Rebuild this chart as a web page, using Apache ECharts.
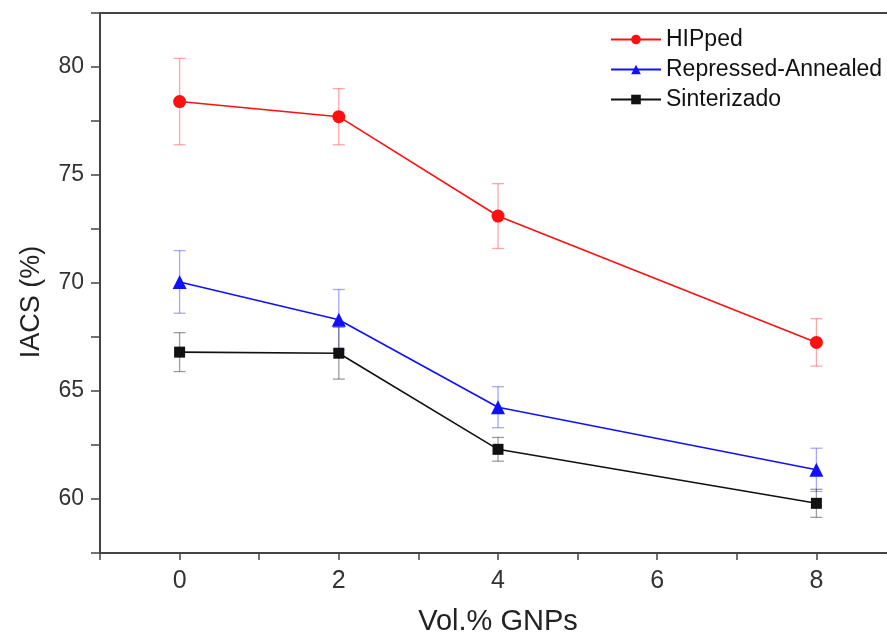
<!DOCTYPE html>
<html>
<head>
<meta charset="utf-8">
<script src="https://cdn.jsdelivr.net/npm/echarts@6/dist/echarts.min.js"></script>
<style>
html,body{margin:0;padding:0;background:#fff;}
#main{width:887px;height:640px;}
</style>
</head>
<body>
<div id="main"></div>
<script>
// ---- data ----
const xValues = [0, 2, 4, 8];
const hipped = [78.4, 77.7, 73.1, 67.25];
const hippedErr = [2.0, 1.3, 1.5, 1.1];
const repressed = [70.05, 68.3, 64.25, 61.35];
const repressedErr = [1.45, 1.4, 0.95, 1.0];
const sinter = [66.8, 66.75, 62.3, 59.8];
const sinterErr = [0.9, 1.2, 0.55, 0.65];
const seriesNames = ['HIPped', 'Repressed-Annealed', 'Sinterizado'];
const xTickLabels = [0, 2, 4, 6, 8];
const yTickLabels = [60, 65, 70, 75, 80];
const xAxisTitle = 'Vol.% GNPs';
const yAxisTitle = 'IACS (%)';

const font = 'Liberation Sans, Arial, sans-serif';

function pts(vals) { return xValues.map((x, i) => [x, vals[i]]); }
function errPts(vals, errs) { return xValues.map((x, i) => [x, vals[i] - errs[i], vals[i] + errs[i]]); }

function errorSeries(data, color) {
  return {
    type: 'custom',
    silent: true,
    z: 1,
    data: data,
    renderItem: function (params, api) {
      const x = api.value(0);
      const lo = api.coord([x, api.value(1)]);
      const hi = api.coord([x, api.value(2)]);
      const w = 6;
      const style = { stroke: color, lineWidth: 1.3 };
      return {
        type: 'group',
        children: [
          { type: 'line', shape: { x1: lo[0], y1: lo[1], x2: hi[0], y2: hi[1] }, style: style },
          { type: 'line', shape: { x1: lo[0] - w, y1: lo[1], x2: lo[0] + w, y2: lo[1] }, style: style },
          { type: 'line', shape: { x1: hi[0] - w, y1: hi[1], x2: hi[0] + w, y2: hi[1] }, style: style }
        ]
      };
    }
  };
}

function lineSeries(name, vals, color, symbol, size) {
  return {
    name: name,
    type: 'line',
    data: pts(vals),
    z: 3,
    symbol: symbol,
    symbolSize: size,
    lineStyle: { color: color, width: 1.6 },
    itemStyle: { color: color },
    emphasis: { disabled: true }
  };
}

const axisColor = '#444';
const chart = echarts.init(document.getElementById('main'));
chart.setOption({
  animation: false,
  backgroundColor: '#fff',
  grid: { left: 100, top: 13, width: 796, height: 540, containLabel: false, outerBoundsMode: 'none' },
  legend: {
    data: seriesNames,
    orient: 'vertical',
    left: 610,
    top: 28,
    padding: 0,
    itemWidth: 50,
    itemHeight: 12,
    itemGap: 7,
    textStyle: { fontFamily: font, fontSize: 23, color: '#111' }
  },
  graphic: [{
    type: 'text',
    x: 32, y: 302,
    rotation: Math.PI / 2,
    silent: true,
    style: {
      text: yAxisTitle,
      fontFamily: font, fontSize: 27, fill: '#222',
      align: 'center', verticalAlign: 'middle'
    }
  }],
  xAxis: [{
    type: 'value',
    min: -1, max: 9, interval: 1,
    name: xAxisTitle,
    nameLocation: 'middle',
    nameGap: 54,
    nameTextStyle: { fontFamily: font, fontSize: 29, color: '#222' },
    axisLine: { show: true, onZero: false, lineStyle: { color: axisColor, width: 2 } },
    axisTick: { show: true, length: 7, lineStyle: { color: axisColor, width: 1.5 } },
    axisLabel: {
      fontFamily: font, fontSize: 25, color: '#333', margin: 16,
      formatter: function (v) { return xTickLabels.indexOf(v) >= 0 ? String(v) : ''; }
    },
    splitLine: { show: false }
  }, {
    type: 'value',
    position: 'top',
    min: -1, max: 9,
    axisLine: { show: true, onZero: false, lineStyle: { color: axisColor, width: 2 } },
    axisTick: { show: false },
    axisLabel: { show: false },
    splitLine: { show: false }
  }],
  yAxis: {
    type: 'value',
    min: 57.5, max: 82.5, interval: 2.5,
    axisLine: { show: true, onZero: false, lineStyle: { color: axisColor, width: 2 } },
    axisTick: { show: true, length: 9, lineStyle: { color: axisColor, width: 1.5 } },
    axisLabel: {
      fontFamily: font, fontSize: 23, color: '#333', margin: 16,
      formatter: function (v) { return yTickLabels.indexOf(v) >= 0 ? String(v) : ''; }
    },
    splitLine: { show: false }
  },
  series: [
    errorSeries(errPts(hipped, hippedErr), 'rgba(255,60,60,0.45)'),
    errorSeries(errPts(repressed, repressedErr), 'rgba(60,60,255,0.45)'),
    errorSeries(errPts(sinter, sinterErr), 'rgba(40,40,40,0.45)'),
    lineSeries(seriesNames[0], hipped, '#ff1010', 'circle', 13),
    lineSeries(seriesNames[1], repressed, '#1010ff', 'triangle', 14),
    lineSeries(seriesNames[2], sinter, '#111111', 'rect', 11)
  ]
});
</script>
</body>
</html>
